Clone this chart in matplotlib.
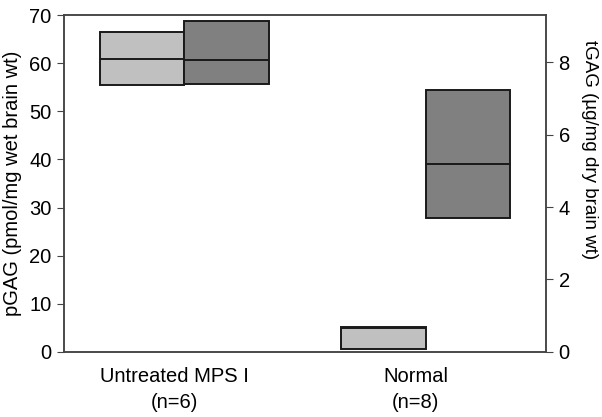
import numpy as np
import matplotlib
matplotlib.use('Agg')
import matplotlib.pyplot as plt

plt.rcParams['font.family'] = ['Liberation Sans', 'DejaVu Sans']

groups = ['Untreated MPS I\n(n=6)', 'Normal\n(n=8)']
# pGAG boxes (left axis, pmol/mg wet brain wt)
pgag_q1 = [55.5, 0.7]
pgag_med = [60.9, 5.0]
pgag_q3 = [66.5, 5.2]
# tGAG boxes (right axis, ug/mg dry brain wt)
tgag_q1 = [7.39, 3.70]
tgag_med = [8.06, 5.19]
tgag_q3 = [9.13, 7.23]

light = '#c0c0c0'
dark = '#808080'
w = 0.35
x = np.arange(len(groups))
fs = 14.5

fig = plt.figure(figsize=(6.02, 4.17), dpi=100)
ax = fig.add_axes([0.1063, 0.156, 0.8007, 0.808])
ax2 = ax.twinx()

# light boxes sit left of centre, dark boxes right of centre
xl = x - w / 2
xd = x + w / 2
ax.bar(xl, np.subtract(pgag_q3, pgag_q1), bottom=pgag_q1, width=w,
       color=light, edgecolor='#1a1a1a', linewidth=1.4, zorder=2)
ax.hlines(pgag_med, xl - w / 2, xl + w / 2, color='#1a1a1a', linewidth=1.4, zorder=3)
ax2.bar(xd, np.subtract(tgag_q3, tgag_q1), bottom=tgag_q1, width=w,
        color=dark, edgecolor='#1a1a1a', linewidth=1.4, zorder=2)
ax2.hlines(tgag_med, xd - w / 2, xd + w / 2, color='#1a1a1a', linewidth=1.4, zorder=3)

ax.set_xlim(-0.5, 1.5)
ax.set_ylim(0, 70)
ax.set_yticks(range(0, 71, 10))
ax2.set_ylim(0, 9.3)
ax2.set_yticks([0, 2, 4, 6, 8])

# group labels sit a little left of the box pair centre
ax.set_xticks(x - 0.04)
ax.set_xticklabels(groups, fontsize=fs, linespacing=1.45)
ax.tick_params(axis='x', length=0, pad=11)
ax.tick_params(axis='y', direction='out', length=5, labelsize=fs, color='#444444', pad=4)
ax2.tick_params(axis='y', direction='out', length=5, labelsize=fs, color='#444444', pad=4)

for a in (ax, ax2):
    for s in a.spines.values():
        s.set_color('#444444')
        s.set_linewidth(1.1)

ax.set_ylabel('pGAG (pmol/mg wet brain wt)', fontsize=fs, labelpad=5)
ax2.set_ylabel('tGAG (µg/mg dry brain wt)', fontsize=13.5, rotation=270, labelpad=20)
ax2.yaxis.label.set_y(0.6)

fig.savefig('out.png', dpi=100)
